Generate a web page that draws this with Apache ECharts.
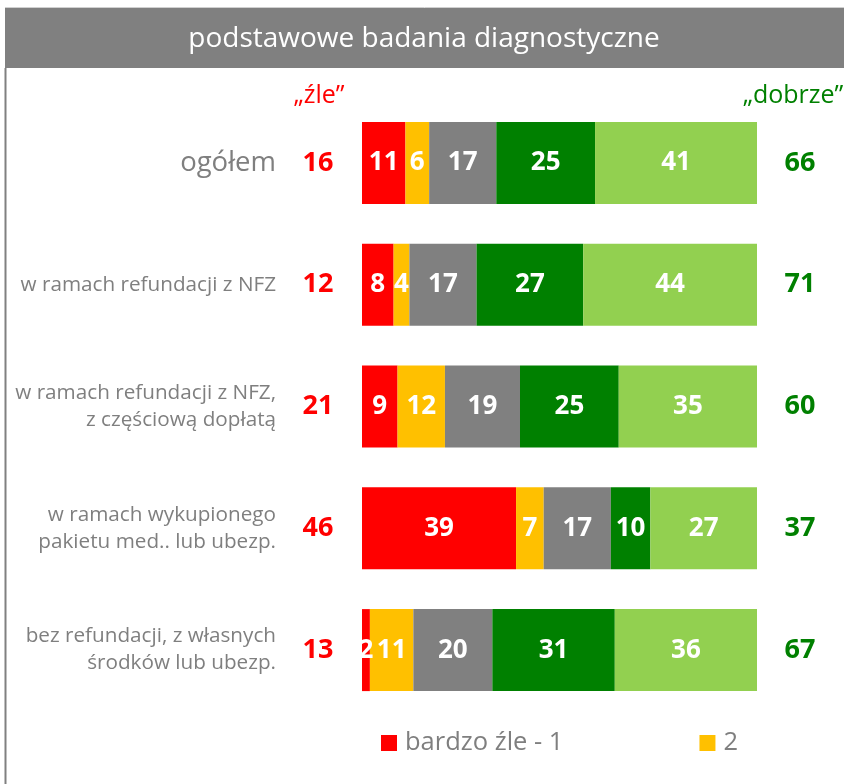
<!DOCTYPE html>
<html>
<head>
<meta charset="utf-8">
<script src="https://cdn.jsdelivr.net/npm/echarts@6/dist/echarts.min.js"></script>
<style>
  html, body { margin: 0; padding: 0; background: #fff; }
  #chart { width: 844px; height: 784px; }
</style>
</head>
<body>
<div id="chart"></div>
<script>
const categories = [
  'ogółem',
  'w ramach refundacji z NFZ',
  'w ramach refundacji z NFZ,\nz częściową dopłatą',
  'w ramach wykupionego\npakietu med.. lub ubezp.',
  'bez refundacji, z własnych\nśrodków lub ubezp.'
];
const seriesNames = ['bardzo źle - 1', '2', '3', '4', 'bardzo dobrze - 5'];
const veryBad = [11, 8, 9, 39, 2];
const bad = [6, 4, 12, 7, 11];
const neutral = [17, 17, 19, 17, 20];
const good = [25, 27, 25, 10, 31];
const veryGood = [41, 44, 35, 27, 36];
const badTotals = [16, 12, 21, 46, 13];
const goodTotals = [66, 71, 60, 37, 67];

const colors = ['#FF0000', '#FFC000', '#808080', '#008000', '#92D050'];
const font = 'Open Sans';

const chart = echarts.init(document.getElementById('chart'));

const values = [veryBad, bad, neutral, good, veryGood];
const series = values.map((data, i) => ({
  name: seriesNames[i],
  type: 'bar',
  stack: 'all',
  barWidth: 82,
  itemStyle: { color: colors[i] },
  label: {
    show: true,
    position: 'inside',
    color: '#fff',
    fontFamily: font,
    fontWeight: 'bold',
    fontSize: 26
  },
  data: data
}));

const option = {
  animation: false,
  grid: { left: 362, right: 87, top: 102, bottom: 73 },
  legend: {
    data: ['bardzo źle - 1', '2'],
    left: 381,
    top: 730,
    padding: 0,
    icon: 'rect',
    itemWidth: 16,
    itemHeight: 16,
    itemGap: 136,
    textStyle: { color: '#7f7f7f', fontSize: 25.5, fontFamily: font, padding: [0, 0, 0, 3] }
  },
  xAxis: {
    type: 'value',
    min: 0,
    max: 100,
    show: false
  },
  yAxis: [
    {
      type: 'category',
      inverse: true,
      data: categories,
      axisLine: { show: false },
      axisTick: { show: false },
      axisLabel: {
        margin: 86,
        align: 'right',
        formatter: function (v) {
          if (v === 'ogółem') return '{big|' + v + '}';
          return v.split('\n').map(s => '{small|' + s + '}').join('\n');
        },
        rich: {
          big: { fontSize: 27.5, color: '#7f7f7f', fontFamily: font },
          small: { fontSize: 20.7, color: '#7f7f7f', fontFamily: font, lineHeight: 27 }
        }
      }
    },
    {
      type: 'category',
      inverse: true,
      position: 'left',
      data: badTotals,
      axisLine: { show: false },
      axisTick: { show: false },
      axisLabel: {
        margin: 44,
        align: 'center',
        color: '#FF0000',
        fontWeight: 'bold',
        fontSize: 27,
        fontFamily: font
      }
    },
    {
      type: 'category',
      inverse: true,
      position: 'right',
      data: goodTotals,
      axisLine: { show: false },
      axisTick: { show: false },
      axisLabel: {
        margin: 43,
        align: 'center',
        color: '#008000',
        fontWeight: 'bold',
        fontSize: 27,
        fontFamily: font
      }
    }
  ],
  graphic: [
    { type: 'line', shape: { x1: 5, y1: 7.5, x2: 844, y2: 7.5 }, style: { stroke: '#d0d0d0', lineWidth: 1 } },
    { type: 'rect', shape: { x: 5, y: 8, width: 839, height: 60 }, style: { fill: '#808080' } },
    { type: 'line', shape: { x1: 5.5, y1: 68, x2: 5.5, y2: 784 }, style: { stroke: '#808080', lineWidth: 2 } },
    {
      type: 'text', x: 424, y: 39,
      style: { text: 'podstawowe badania diagnostyczne', fill: '#fff', fontSize: 28, fontFamily: font, align: 'center', verticalAlign: 'middle' }
    },
    {
      type: 'text', x: 319, y: 96,
      style: { text: '„źle”', fill: '#FF0000', fontSize: 25, fontFamily: font, align: 'center', verticalAlign: 'middle' }
    },
    {
      type: 'text', x: 793, y: 96,
      style: { text: '„dobrze”', fill: '#008000', fontSize: 25, fontFamily: font, align: 'center', verticalAlign: 'middle' }
    }
  ],
  series: series
};

chart.setOption(option);
</script>
</body>
</html>
